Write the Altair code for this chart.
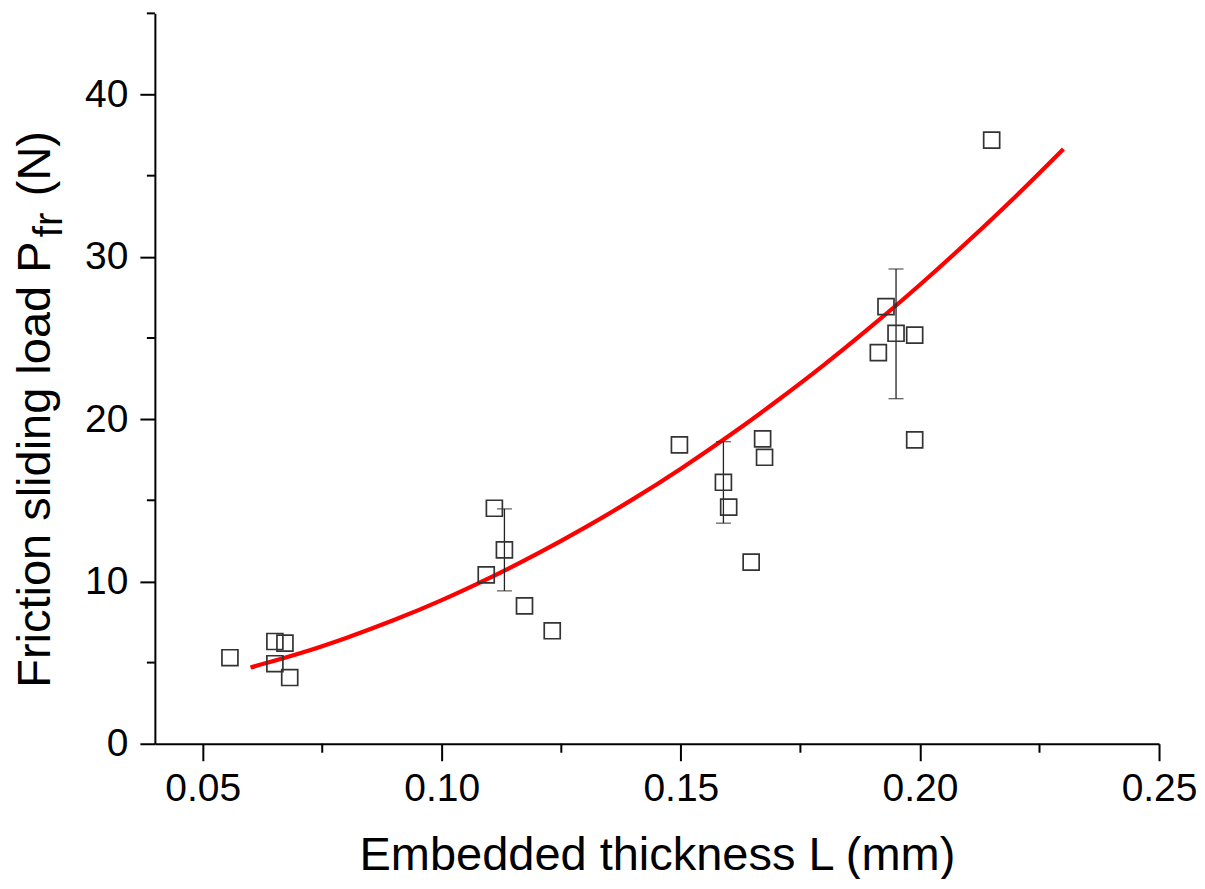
import altair as alt
import pandas as pd

# Measured data points (embedded thickness L in mm, friction sliding load in N)
pt_x = [0.0557, 0.0651, 0.0672, 0.0651, 0.0682,
        0.1110, 0.1131, 0.1093, 0.1173, 0.1231,
        0.1497, 0.1671, 0.1675, 0.1589, 0.1600, 0.1647,
        0.1929, 0.1950, 0.1989, 0.1913, 0.1989,
        0.2150]
pt_y = [5.30, 6.30, 6.20, 4.93, 4.08,
        14.51, 11.95, 10.41, 8.50, 6.96,
        18.41, 18.78, 17.65, 16.11, 14.58, 11.19,
        26.93, 25.29, 25.18, 24.10, 18.72,
        37.19]

# Error bars (mean points)
err_x = [0.1131, 0.1589, 0.1950]
err_lo = [9.42, 13.59, 21.26]
err_hi = [14.47, 18.61, 29.25]

# Fitted curve
fit_x = [0.06, 0.07, 0.08, 0.09, 0.10, 0.11, 0.12, 0.13, 0.14, 0.15,
         0.16, 0.17, 0.18, 0.19, 0.20, 0.21, 0.22, 0.23]
fit_y = [4.70, 5.54, 6.52, 7.62, 8.85, 10.22, 11.71, 13.33, 15.07, 16.95,
         18.96, 21.10, 23.36, 25.76, 28.28, 30.94, 33.72, 36.64]

x_major = [0.05, 0.10, 0.15, 0.20, 0.25]
x_minor = [0.075, 0.125, 0.175, 0.225]
y_major = [0, 10, 20, 30, 40]
y_minor = [5, 15, 25, 35, 45]

FONT = "Liberation Sans"
W, H = 1005, 731

xscale = alt.Scale(domain=[0.04, 0.25], nice=False, zero=False)
yscale = alt.Scale(domain=[0, 45], nice=False, zero=False)

xaxis = alt.Axis(values=x_major, format=".2f", title="Embedded thickness L (mm)",
                 tickSize=17, labelPadding=9, titlePadding=24,
                 titleFontSize=47, titleFontWeight="normal", titleFont=FONT,
                 titleColor="black", labelFlush=False)
yaxis = alt.Axis(values=y_major, format="d", title=None, tickSize=15, labelPadding=12)

X = alt.X("x:Q", scale=xscale, axis=xaxis)
Y = alt.Y("y:Q", scale=yscale, axis=yaxis)

df_pts = pd.DataFrame({"x": pt_x, "y": pt_y})
df_err = pd.DataFrame({"x": err_x, "y": err_lo, "y2": err_hi})
df_caps = pd.DataFrame({"x": err_x + err_x, "y": err_lo + err_hi})
df_fit = pd.DataFrame({"x": fit_x, "y": fit_y})
df_xminor = pd.DataFrame({"x": x_minor})
df_yminor = pd.DataFrame({"y": y_minor})

err_rule = alt.Chart(df_err).mark_rule(color="#222222", strokeWidth=1.3).encode(
    x=X, y=Y, y2="y2:Q")
err_caps = alt.Chart(df_caps).mark_tick(color="#222222", orient="horizontal",
                                        size=15, thickness=1.3).encode(x=X, y=Y)
points = alt.Chart(df_pts).mark_point(shape="square", size=256, filled=False,
                                      color="#333333", strokeWidth=1.7,
                                      opacity=1).encode(x=X, y=Y)
fit = alt.Chart(df_fit).mark_line(color="#ff0000", strokeWidth=4.2,
                                  interpolate="monotone").encode(x=X, y=Y)

x_minor_ticks = alt.Chart(df_xminor).mark_rule(color="black", strokeWidth=2).encode(
    x=X, y=alt.value(H), y2=alt.value(H + 9))
y_minor_ticks = alt.Chart(df_yminor).mark_rule(color="black", strokeWidth=2).encode(
    y=Y, x=alt.value(-8), x2=alt.value(0))

# Y-axis title with subscript, built from text marks
title_main = alt.Chart(pd.DataFrame({"t": ["Friction sliding load P"]})).mark_text(
    angle=270, align="left", baseline="alphabetic", fontSize=47, font=FONT,
    color="black").encode(text="t:N", x=alt.value(-105), y=alt.value(675))
title_sub = alt.Chart(pd.DataFrame({"t": ["fr"]})).mark_text(
    angle=270, align="left", baseline="alphabetic", fontSize=40, font=FONT,
    color="black").encode(text="t:N", x=alt.value(-93), y=alt.value(224))
title_unit = alt.Chart(pd.DataFrame({"t": ["(N)"]})).mark_text(
    angle=270, align="left", baseline="alphabetic", fontSize=47, font=FONT,
    color="black").encode(text="t:N", x=alt.value(-105), y=alt.value(183))

chart = alt.layer(
    fit, err_rule, err_caps, points, x_minor_ticks, y_minor_ticks,
    title_main, title_sub, title_unit
).properties(
    width=W, height=H,
    padding={"left": 3, "top": 4, "right": 0, "bottom": 0}
).configure_view(
    stroke=None
).configure_axis(
    domainColor="black", domainWidth=2, tickColor="black", tickWidth=2,
    labelFont=FONT, labelFontSize=39, labelColor="black", grid=False
)

chart.save("out.html", embed_options={"renderer": "svg", "actions": False})
